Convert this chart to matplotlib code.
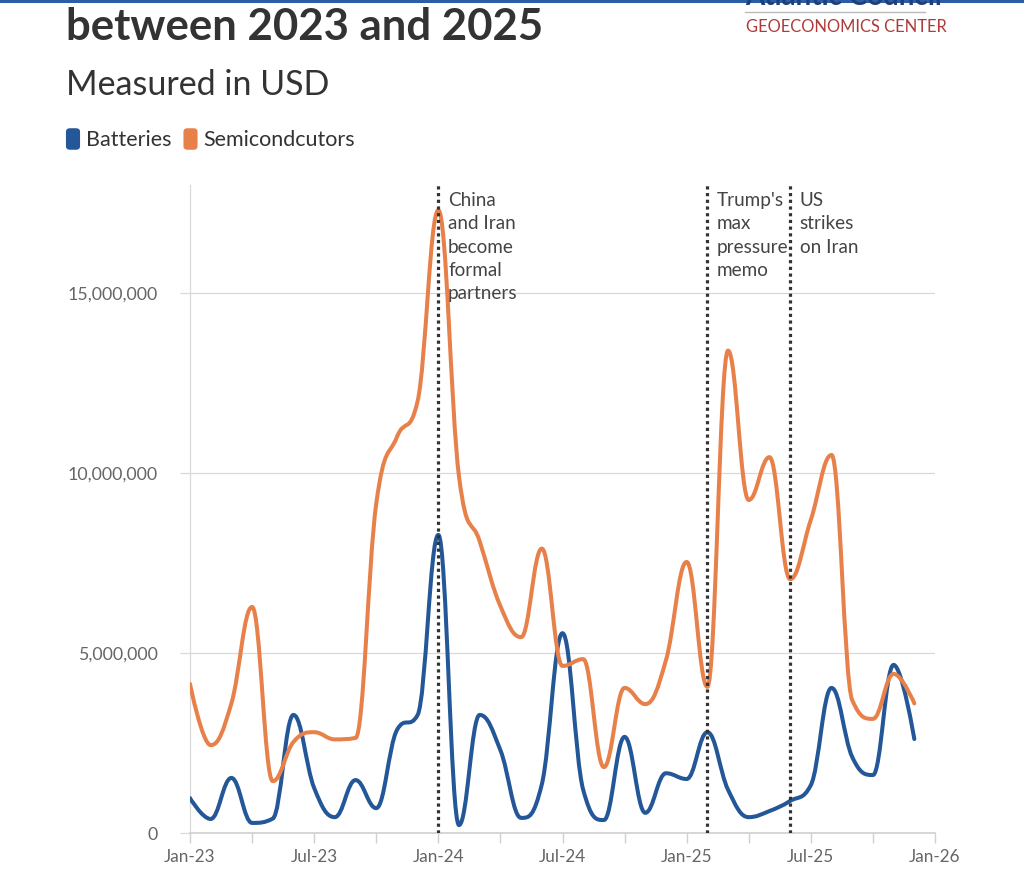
import matplotlib
matplotlib.use("Agg")
import matplotlib.pyplot as plt
from matplotlib.path import Path
from matplotlib.patches import PathPatch, FancyBboxPatch
from matplotlib.ticker import FuncFormatter, FixedLocator
import matplotlib.lines as mlines

plt.rcParams['font.family'] = ['Lato', 'DejaVu Sans']

# ---------------- data (monthly, Jan-2023 .. Dec-2025) ----------------
months = ["Jan-23", "Feb-23", "Mar-23", "Apr-23", "May-23", "Jun-23", "Jul-23", "Aug-23",
          "Sep-23", "Oct-23", "Nov-23", "Dec-23", "Jan-24", "Feb-24", "Mar-24", "Apr-24",
          "May-24", "Jun-24", "Jul-24", "Aug-24", "Sep-24", "Oct-24", "Nov-24", "Dec-24",
          "Jan-25", "Feb-25", "Mar-25", "Apr-25", "May-25", "Jun-25", "Jul-25", "Aug-25",
          "Sep-25", "Oct-25", "Nov-25", "Dec-25"]
batteries = [970000, 390000, 1530000, 280000, 400000, 3280000, 1250000, 440000,
             1470000, 690000, 2860000, 3280000, 8280000, 220000, 3280000, 2300000,
             420000, 1350000, 5550000, 1200000, 360000, 2670000, 560000, 1660000,
             1500000, 2800000, 1200000, 440000, 610000, 890000, 1330000, 4030000,
             2110000, 1610000, 4670000, 2610000]
semiconductors = [4140000, 2440000, 3600000, 6280000, 1440000, 2530000, 2800000, 2600000,
                  2640000, 9150000, 11000000, 12000000, 17300000, 9900000, 8100000, 6300000,
                  5440000, 7900000, 4640000, 4830000, 1830000, 4030000, 3580000, 4800000,
                  7530000, 4060000, 13400000, 9250000, 10440000, 7050000, 8700000, 10500000,
                  3690000, 3170000, 4420000, 3600000]
series_names = ["Batteries", "Semicondcutors"]
series_colors = ["#235797", "#e8804a"]

xtick_labels = ["Jan-23", "Jul-23", "Jan-24", "Jul-24", "Jan-25", "Jul-25", "Jan-26"]
ytick_values = [0, 5000000, 10000000, 15000000]

events = [("Jan-24", "China\nand Iran\nbecome\nformal\npartners"),
          ("Feb-25", "Trump's\nmax\npressure\nmemo"),
          ("Jun-25", "US\nstrikes\non Iran")]


def hc_spline_path(xs, ys, smoothing=1.5):
    """Highcharts-style spline path through the data points."""
    denom = smoothing + 1
    n = len(xs)
    right_cont = [None] * n
    verts = [(xs[0], ys[0])]
    codes = [Path.MOVETO]
    for i in range(1, n):
        px, py = xs[i], ys[i]
        lx, ly = xs[i - 1], ys[i - 1]
        lcx, lcy = px, py
        if i < n - 1:
            nx, ny = xs[i + 1], ys[i + 1]
            lcx = (smoothing * px + lx) / denom
            lcy = (smoothing * py + ly) / denom
            rcx = (smoothing * px + nx) / denom
            rcy = (smoothing * py + ny) / denom
            if rcx != lcx:
                corr = ((rcy - lcy) * (rcx - px)) / (rcx - lcx) + py - rcy
                lcy += corr
                rcy += corr
            if lcy > ly and lcy > py:
                lcy = max(ly, py); rcy = 2 * py - lcy
            elif lcy < ly and lcy < py:
                lcy = min(ly, py); rcy = 2 * py - lcy
            if rcy > ny and rcy > py:
                rcy = max(ny, py); lcy = 2 * py - rcy
            elif rcy < ny and rcy < py:
                rcy = min(ny, py); lcy = 2 * py - rcy
            right_cont[i] = (rcx, rcy)
        prev_rc = right_cont[i - 1] if right_cont[i - 1] is not None else (lx, ly)
        verts += [prev_rc, (lcx, lcy), (px, py)]
        codes += [Path.CURVE4] * 3
    return Path(verts, codes)


W, H = 1024, 880
fig = plt.figure(figsize=(W / 100, H / 100), dpi=100)
fig.patch.set_facecolor("white")

ax_left, ax_right, ax_top, ax_bottom = 190, 935, 185, 833
ax = fig.add_axes([ax_left / W, 1 - ax_bottom / H, (ax_right - ax_left) / W, (ax_bottom - ax_top) / H])

xidx = list(range(len(months)))
for vals, col in zip([batteries, semiconductors], series_colors):
    ax.add_patch(PathPatch(hc_spline_path(xidx, vals), facecolor="none", edgecolor=col,
                           lw=2.9, capstyle="round", joinstyle="round", zorder=3))

ax.set_xlim(0, 36)
ax.set_ylim(0, 18000000)

# grid
for v in ytick_values[1:]:
    ax.axhline(v, color="#d9d9d9", lw=0.9, zorder=1)

for s in ["top", "right"]:
    ax.spines[s].set_visible(False)
ax.spines["left"].set_color("#d9d9d9")
ax.spines["bottom"].set_color("#d0d0d0")
ax.spines["left"].set_linewidth(0.9)
ax.spines["bottom"].set_linewidth(1.2)

ax.yaxis.set_major_locator(FixedLocator(ytick_values))
ax.yaxis.set_major_formatter(FuncFormatter(lambda v, p: f"{int(v):,}"))
ax.tick_params(axis="y", length=7.2, width=0.9, color="#d9d9d9", pad=16,
               labelsize=12.8, labelcolor="#666666")
ax.xaxis.set_major_locator(FixedLocator(range(0, 37, 6)))
ax.set_xticks(range(3, 37, 6), minor=True)
ax.set_xticklabels(xtick_labels)
ax.tick_params(axis="x", which="both", length=7.2, width=1.0, color="#d0d0d0", pad=4,
               labelsize=12.3, labelcolor="#666666")

# event lines & labels
for m, label in events:
    xi = months.index(m)
    ax.axvline(xi, color="#333333", lw=2.3, linestyle=(0, (1, 1.1)), zorder=4)
    ax.annotate(label, xy=(xi, 18000000), xycoords="data", xytext=(7, -5),
                textcoords="offset points", ha="left", va="top", fontsize=13.6,
                color="#444444", linespacing=1.45, zorder=5)

# headings
fig.text(66 / W, 1 - 40 / H, "between 2023 and 2025", fontsize=31.5, fontweight="bold",
         color="#333333", ha="left", va="baseline")
fig.text(66 / W, 1 - 95 / H, "Measured in USD", fontsize=24.5, color="#333333",
         ha="left", va="baseline")

# legend
lx = 66
for name, col in zip(series_names, series_colors):
    fig.patches.append(FancyBboxPatch(((lx + 2) / W, 1 - 148 / H), 10 / W, 18 / H,
                                      boxstyle="round,pad=0.002,rounding_size=0.004",
                                      transform=fig.transFigure, facecolor=col,
                                      edgecolor=col, lw=0))
    t = fig.text((lx + 20) / W, 1 - 146 / H, name, fontsize=15.5, color="#333333",
                 ha="left", va="baseline")
    fig.canvas.draw()
    bb = t.get_window_extent()
    lx = bb.x1 + 12

# brand block
fig.add_artist(mlines.Line2D([0, 1], [1 - 1 / H, 1 - 1 / H], transform=fig.transFigure,
                             color="#2b5ea6", lw=2.2))
fig.text(745 / W, 1 - 5 / H, "Atlantic Council", fontsize=20, fontweight="bold",
         color="#1f3f7a", ha="left", va="baseline")
fig.add_artist(mlines.Line2D([745 / W, 925 / W], [1 - 12 / H, 1 - 12 / H],
                             transform=fig.transFigure, color="#bbbbbb", lw=1.0))
fig.text(746 / W, 1 - 32 / H, "GEOECONOMICS CENTER", fontsize=11.9, color="#b03a3a",
         ha="left", va="baseline")

fig.savefig("out.png", dpi=100, facecolor="white")
